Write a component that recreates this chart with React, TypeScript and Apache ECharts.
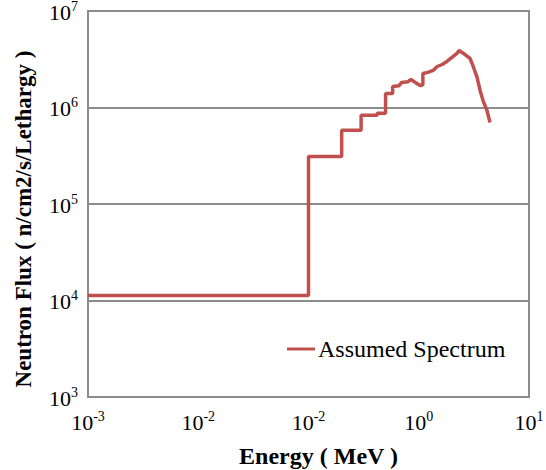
import React, { useEffect, useRef } from "react";
import * as echarts from "echarts";

// Energy (MeV) and neutron flux (n/cm2/s/Lethargy)
const energies = [
  0.001, 0.1, 0.1, 0.2, 0.2, 0.3, 0.3, 0.42, 0.42, 0.5, 0.5, 0.58, 0.58, 0.66,
  0.7, 0.8, 0.85, 0.93, 1.03, 1.09, 1.09, 1.21, 1.35, 1.47, 1.63, 1.8, 2.0,
  2.22, 2.32, 2.63, 2.92, 3.1, 3.38, 3.6, 3.83, 4.16, 4.43,
];
const fluxes = [
  1.13e4, 1.13e4, 3.1e5, 3.1e5, 5.8e5, 5.8e5, 8.3e5, 8.3e5, 8.7e5, 8.7e5,
  1.4e6, 1.4e6, 1.65e6, 1.68e6, 1.82e6, 1.85e6, 1.95e6, 1.82e6, 1.69e6,
  1.72e6, 2.25e6, 2.31e6, 2.42e6, 2.66e6, 2.79e6, 3.0e6, 3.3e6, 3.63e6,
  3.9e6, 3.54e6, 3.22e6, 2.72e6, 2.05e6, 1.5e6, 1.18e6, 9.3e5, 7.0e5,
];
const seriesName = "Assumed Spectrum";
// x tick label exponents as printed in the reference (10^-3 ... 10^1)
const xTickExponents = ["-3", "-2", "-2", "0", "1"];
const yTickExponents = ["3", "4", "5", "6", "7"];

const FONT = "'Liberation Serif', 'Times New Roman', serif";

export default function App() {
  const ref = useRef<HTMLDivElement>(null);
  useEffect(() => {
    if (!ref.current) return;
    const chart = echarts.init(ref.current, undefined, { renderer: "svg" });
    const rich = {
      b: { fontSize: 22, fontFamily: FONT, color: "#000", lineHeight: 24, verticalAlign: "bottom" },
      s: { fontSize: 14, fontFamily: FONT, color: "#000", lineHeight: 14, verticalAlign: "top" },
    };
    chart.setOption({
      animation: false,
      backgroundColor: "#fff",
      grid: {
        left: 88,
        top: 11,
        right: 17,
        bottom: 73,
        outerBoundsMode: "none",
        containLabel: false,
        show: true,
        borderColor: "#8c8c8c",
        borderWidth: 2,
        backgroundColor: "transparent",
      },
      legend: {
        data: [seriesName],
        left: 287,
        top: 337,
        padding: 0,
        icon: "rect",
        itemWidth: 28,
        itemHeight: 3,
        itemGap: 4,
        textStyle: { fontFamily: FONT, fontSize: 24, color: "#000", padding: [0, 0, 0, -2] },
      },
      xAxis: {
        type: "log",
        logBase: 10,
        min: 0.001,
        max: 10,
        name: "Energy ( MeV )",
        nameLocation: "middle",
        nameGap: 47,
        nameTextStyle: {
          fontFamily: FONT,
          fontSize: 24,
          fontWeight: "bold",
          color: "#000",
          padding: [0, 0, 0, 20],
        },
        axisLine: { show: false },
        axisTick: { show: false },
        splitLine: { show: false },
        axisLabel: {
          margin: 12,
          formatter: (v: number) => {
            const i = Math.round(Math.log10(v)) + 3;
            return "{b|10}{s|" + (xTickExponents[i] ?? "") + "}";
          },
          rich,
        },
      },
      yAxis: {
        type: "log",
        logBase: 10,
        min: 1000,
        max: 1e7,
        name: "Neutron Flux ( n/cm2/s/Lethargy )",
        nameLocation: "middle",
        nameGap: 53,
        nameTextStyle: {
          fontFamily: FONT,
          fontSize: 23,
          fontWeight: "bold",
          color: "#000",
          padding: [0, 30, 0, 0],
        },
        axisLine: { show: false },
        axisTick: { show: false },
        splitLine: { show: true, lineStyle: { color: "#8c8c8c", width: 2 } },
        axisLabel: {
          margin: 10,
          formatter: (v: number) => {
            const i = Math.round(Math.log10(v)) - 3;
            return "{b|10}{s|" + (yTickExponents[i] ?? "") + "}";
          },
          rich,
        },
      },
      series: [
        {
          name: seriesName,
          type: "line",
          showSymbol: false,
          symbol: "none",
          color: "#c0504d",
          lineStyle: { color: "#c0504d", width: 3.5 },
          data: energies.map((e, i) => [e, fluxes[i]]),
        },
      ],
    });
    return () => chart.dispose();
  }, []);
  return <div ref={ref} style={{ width: 546, height: 470, position: "absolute", left: 0, top: 0 }} />;
}
